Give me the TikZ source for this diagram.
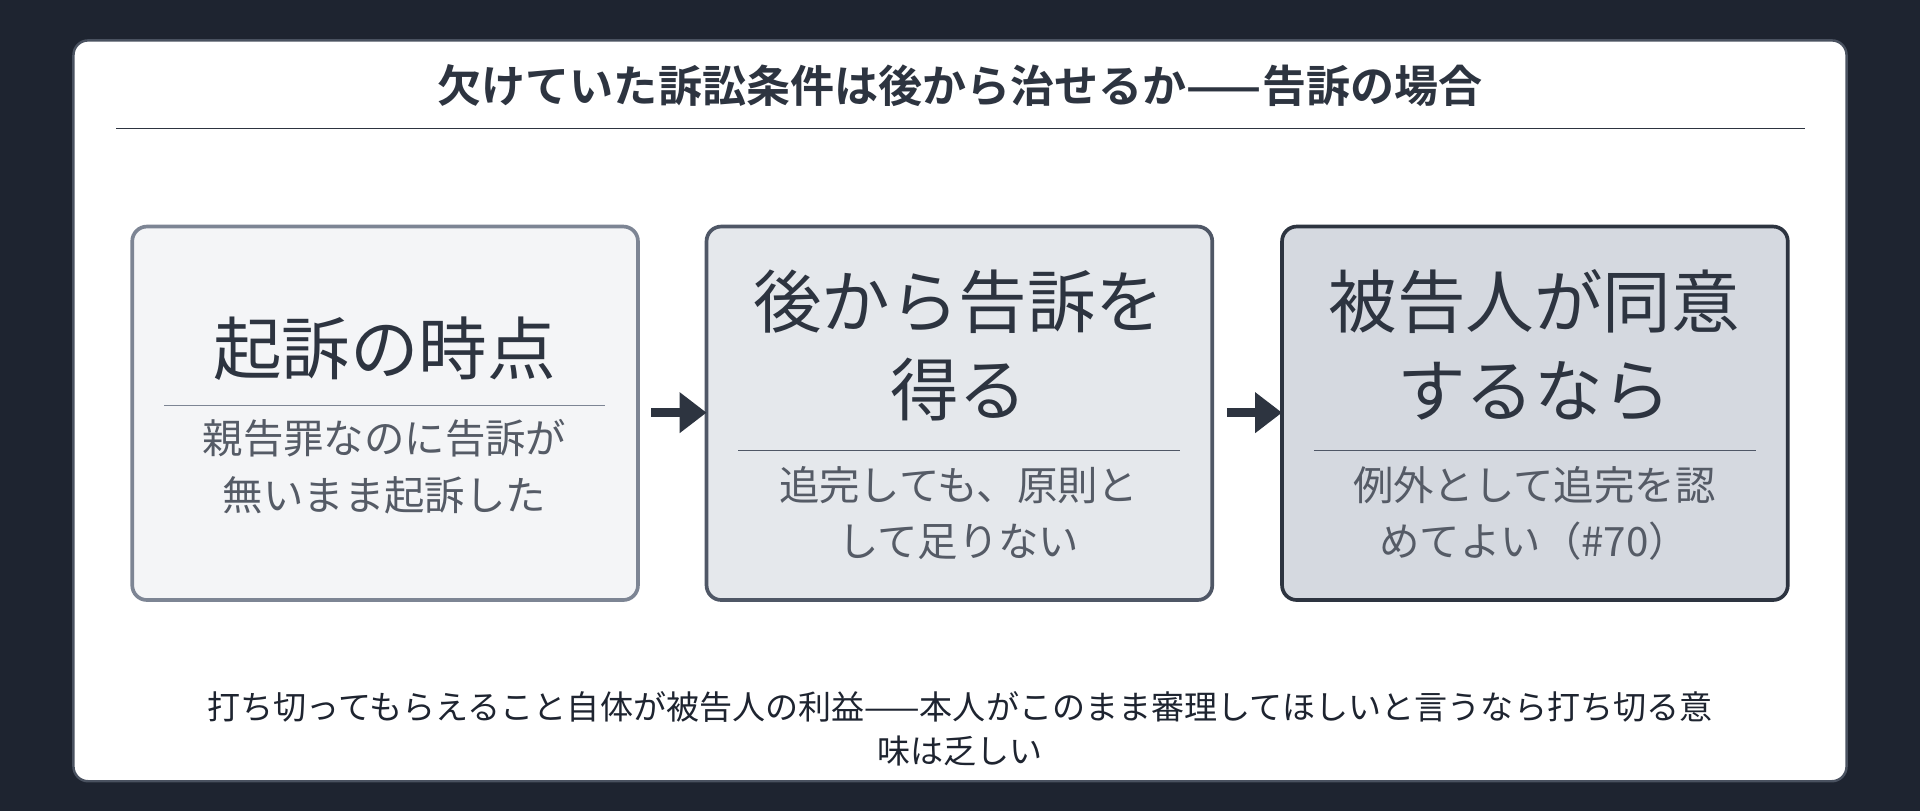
\documentclass[tikz,border=0pt]{standalone}
\usepackage{fontspec}
\setmainfont{Noto Sans CJK JP}
\newfontfamily\cjkb{Noto Sans CJK JP Bold}
\usetikzlibrary{arrows.meta}
\definecolor{bg}{HTML}{1E2430}
\definecolor{ink}{HTML}{2D3440}
\definecolor{sub}{HTML}{555B66}
\definecolor{f1}{HTML}{F4F5F7}
\definecolor{f2}{HTML}{E5E8EC}
\definecolor{f3}{HTML}{D5D9E0}
\definecolor{d1}{HTML}{7D8594}
\definecolor{d2}{HTML}{4F5766}
\definecolor{cardb}{HTML}{4A5260}
\begin{document}
\begin{tikzpicture}[x=1pt,y=-1pt,
  box/.style={rounded corners=12pt,line width=3pt},
  big/.style={font=\fontsize{56}{72}\selectfont,text=ink,align=center},
  small/.style={font=\fontsize{33}{46}\selectfont,text=sub,align=center},
  arr/.style={-{Triangle[length=22pt,width=32pt]},line width=7pt,draw=ink}]
\fill[bg] (0,0) rectangle (1568,662);
\useasboundingbox (0,0) rectangle (1568,662);
\draw[fill=white,draw=cardb,line width=2pt,rounded corners=12pt] (60,33) rectangle (1508,638);
\node[font=\cjkb\fontsize{36}{40}\selectfont,text=ink] (t) at (784,70) {欠けていた訴訟条件は後から治せるか——告訴の場合};
\draw[ink,line width=1.5pt] (95,105) -- (1474,105);
\draw[box,fill=f1,draw=d1] (108,185) rectangle (521,490);
\draw[box,fill=f2,draw=d2] (577,185) rectangle (990,490);
\draw[box,fill=f3,draw=ink] (1047,185) rectangle (1460,490);
\node[big] (a1) at (314,285) {起訴の時点};
\draw[d1,line width=1.2pt] (134,331) -- (494,331);
\node[small] (a2) at (314,381) {親告罪なのに告訴が\\無いまま起訴した};
\node[big] (b1) at (783,282) {後から告訴を\\得る};
\draw[d2,line width=1.2pt] (603,368) -- (964,368);
\node[small] (b2) at (783,419) {追完しても、原則と\\して足りない};
\node[big] (c1) at (1253,282) {被告人が同意\\するなら};
\draw[d2,line width=1.2pt] (1073,368) -- (1434,368);
\node[small] (c2) at (1253,419) {例外として追完を認\\めてよい（\#70）};
\coordinate (p1) at (532,337); \coordinate (p2) at (577,337);
\coordinate (q1) at (1002,337); \coordinate (q2) at (1047,337);
\draw[arr] (p1) -- (p2);
\draw[arr] (q1) -- (q2);
\node[font=\fontsize{27}{36}\selectfont,text=bg,align=center] (n) at (784,595) {打ち切ってもらえること自体が被告人の利益——本人がこのまま審理してほしいと言うなら打ち切る意\\味は乏しい};
\end{tikzpicture}
\end{document}
